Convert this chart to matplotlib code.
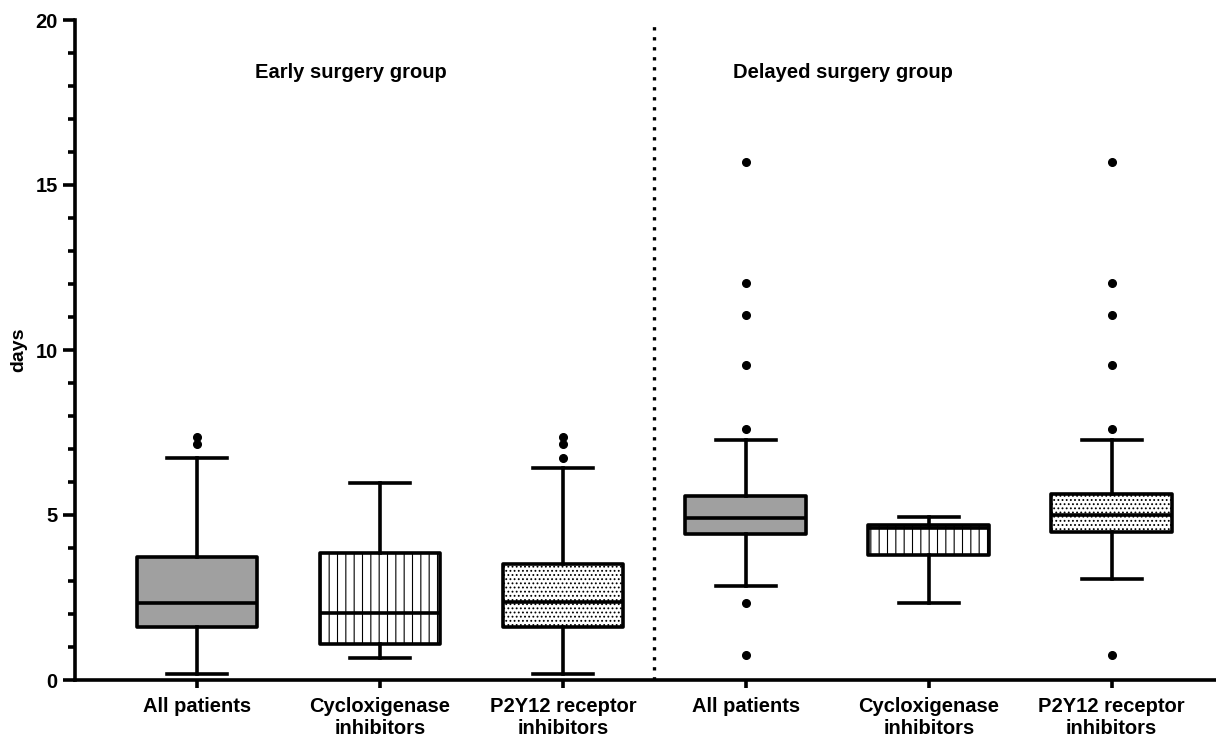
import matplotlib.pyplot as plt

plt.rcParams['font.family'] = ['Liberation Sans', 'DejaVu Sans']
plt.rcParams['hatch.color'] = 'black'
plt.rcParams['hatch.linewidth'] = 0.8

# box statistics (days)
labels = ["All patients", "Cycloxigenase\ninhibitors", "P2Y12 receptor\ninhibitors"] * 2
whislo = [0.18, 0.68, 0.18, 2.86, 2.34, 3.07]
q1 = [1.60, 1.09, 1.60, 4.41, 3.79, 4.49]
med = [2.33, 2.04, 2.37, 4.91, 4.62, 5.00]
q3 = [3.72, 3.84, 3.52, 5.58, 4.71, 5.65]
whishi = [6.72, 5.98, 6.41, 7.27, 4.95, 7.27]
fliers = [
    [7.36, 7.15],
    [],
    [7.36, 7.15, 6.72],
    [15.71, 12.03, 11.06, 9.55, 7.62, 2.34, 0.76],
    [],
    [15.71, 12.03, 11.06, 9.55, 7.62, 0.76],
]
group_titles = ["Early surgery group", "Delayed surgery group"]

stats = []
for i in range(6):
    stats.append({"whislo": whislo[i], "q1": q1[i], "med": med[i], "q3": q3[i],
                  "whishi": whishi[i], "fliers": fliers[i], "label": labels[i]})

fig = plt.figure(figsize=(12.16, 7.40), dpi=100)
ax = fig.add_axes([75 / 1216, 60 / 740, 1 - 75 / 1216, 660 / 740])

lw = 2.6
positions = [1, 2, 3, 4, 5, 6]
bp = ax.bxp(stats, positions=positions, widths=0.66, patch_artist=True,
            boxprops=dict(linewidth=lw, edgecolor='black'),
            whiskerprops=dict(linewidth=lw, color='black'),
            capprops=dict(linewidth=lw, color='black'),
            medianprops=dict(linewidth=lw, color='black'),
            flierprops=dict(marker='o', markerfacecolor='black', markeredgecolor='black',
                            markersize=5.5))

fills = ['#a0a0a0', 'white', 'white'] * 2
hatches = ['', '||', '....'] * 2
for patch, fc, h in zip(bp['boxes'], fills, hatches):
    patch.set_facecolor(fc)
    patch.set_hatch(h)
    patch.set_joinstyle('round')

ax.set_xlim(0.333, 6.57)
ax.set_ylim(0, 20)
ax.axvline(3.5, color='black', linestyle=(0, (1, 2)), linewidth=2.4)

ax.text(1.84, 18.4, group_titles[0], ha='center', va='center', fontsize=14.5, fontweight='bold')
ax.text(4.53, 18.4, group_titles[1], ha='center', va='center', fontsize=14.5, fontweight='bold')

ax.spines['top'].set_visible(False)
ax.spines['right'].set_visible(False)
ax.spines['left'].set_linewidth(lw)
ax.spines['bottom'].set_linewidth(lw)

ax.set_yticks([0, 5, 10, 15, 20])
ax.set_yticks(range(0, 21), minor=True)
ax.tick_params(axis='y', which='major', length=9, width=lw, labelsize=14.5)
ax.tick_params(axis='y', which='minor', length=5, width=lw)
ax.tick_params(axis='x', which='major', length=6, width=lw, labelsize=14.5, pad=6)
for t in ax.get_yticklabels() + ax.get_xticklabels():
    t.set_fontweight('bold')
ax.set_ylabel("days", fontsize=14, fontweight='bold')
ax.yaxis.set_label_coords(-48 / 1141, 0.5)

fig.savefig("out.png", dpi=100)
